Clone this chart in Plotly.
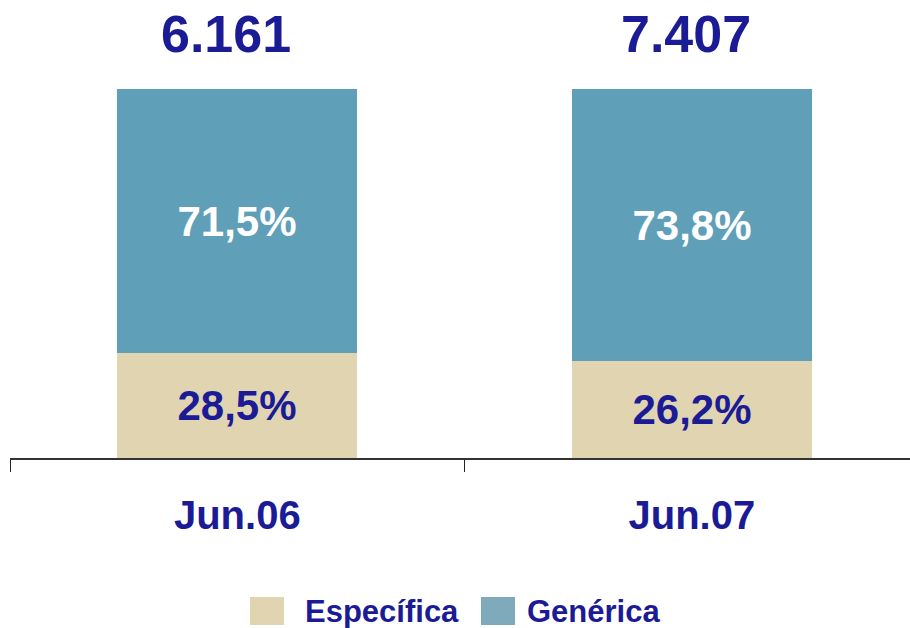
import plotly.graph_objects as go

categories = ["Jun.06", "Jun.07"]
especifica = [28.5, 26.2]
generica = [71.5, 73.8]
totals = [6161, 7407]
legend_labels = ["Específica", "Genérica"]

BLUE_TEXT = "#1B1B96"
C_ESP = "#E0D5B0"
C_GEN = "#5F9FB8"
C_GEN_LEG = "#7FAABB"
FONT = "Arial, Liberation Sans, sans-serif"

W, H = 910, 628
PL, PR, PT, PB = 10, 910, 89, 458  # plot area in pixels
TOTAL_XSHIFT = [-11, -6]

def px_x(px):
    return (px - PL) / (PR - PL)

def px_y(py):
    return (PB - py) / (PB - PT)

def pct(v):
    return f"{v:.1f}".replace(".", ",") + "%"

def thousands(v):
    return f"{v:,}".replace(",", ".")

fig = go.Figure()
fig.add_trace(go.Bar(
    x=categories, y=especifica, name="Específica", marker=dict(color=C_ESP, line=dict(width=0)),
    text=[pct(v) for v in especifica], textposition="inside", insidetextanchor="middle",
    textfont=dict(family=FONT, size=42, color=BLUE_TEXT, weight="bold"),
    constraintext="none", showlegend=False, width=0.528,
))
fig.add_trace(go.Bar(
    x=categories, y=generica, name="Genérica", marker=dict(color=C_GEN, line=dict(width=0)),
    text=[pct(v) for v in generica], textposition="inside", insidetextanchor="middle",
    textfont=dict(family=FONT, size=42, color="white", weight="bold"),
    constraintext="none", showlegend=False, width=0.528,
))

for c, t, g, e, xs in zip(categories, totals, generica, especifica, TOTAL_XSHIFT):
    fig.add_annotation(
        x=c, y=g + e, text=thousands(t), showarrow=False, yanchor="middle",
        yshift=55, xshift=xs, font=dict(family=FONT, size=52, color=BLUE_TEXT, weight="bold"),
    )

# custom legend (large swatches)
legend_items = [
    (legend_labels[0], C_ESP, 250, 303),
    (legend_labels[1], C_GEN_LEG, 481, 525),
]
for name, col, sx, tx in legend_items:
    fig.add_shape(
        type="rect", xref="paper", yref="paper",
        x0=px_x(sx), x1=px_x(sx + 34), y0=px_y(625), y1=px_y(597),
        fillcolor=col, line=dict(width=0), layer="above",
    )
    fig.add_annotation(
        xref="paper", yref="paper", x=px_x(tx), y=px_y(611), xanchor="left", yanchor="middle",
        text=name, showarrow=False,
        font=dict(family=FONT, size=31, color=BLUE_TEXT, weight="bold"),
    )

fig.update_layout(
    width=W, height=H, barmode="stack", bargap=0,
    paper_bgcolor="white", plot_bgcolor="white",
    margin=dict(l=PL, r=W - PR, t=PT, b=H - PB, autoexpand=False),
    showlegend=False,
    xaxis=dict(
        type="category", range=[-0.5, 1.48], showgrid=False, zeroline=False,
        showline=True, linecolor="#333333", linewidth=1.5,
        ticks="outside", tickson="boundaries", ticklen=12, tickcolor="#222222", tickwidth=1,
        tickfont=dict(family=FONT, size=40, color=BLUE_TEXT, weight="bold"),
        ticklabelstandoff=21,
    ),
    yaxis=dict(range=[0, 100], visible=False),
)

fig.write_html(
    "out.html",
    config={"displayModeBar": False},
    post_script="document.body.style.margin='0px';",
)
